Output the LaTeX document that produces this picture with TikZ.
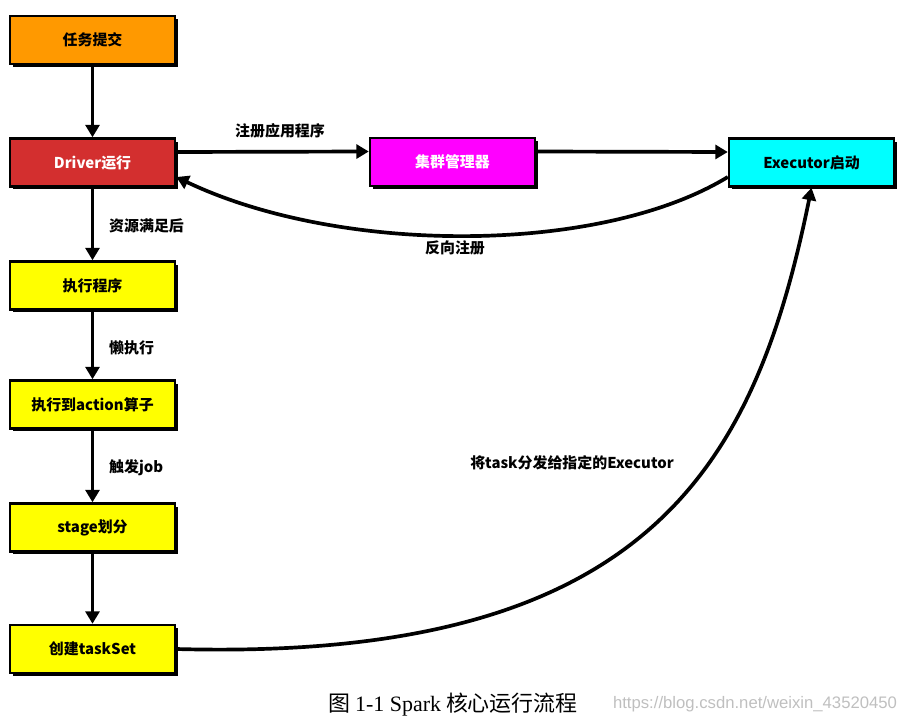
\documentclass[tikz,border=0pt]{standalone}
\usepackage{fontspec}
\setmainfont{Noto Sans CJK SC}
\newfontfamily\serifcap{Liberation Serif}
\newfontfamily\webfont{Liberation Sans}
\usetikzlibrary{arrows.meta,shadows}
\definecolor{taskorange}{HTML}{FF9900}
\definecolor{driverred}{HTML}{D32F2F}
\definecolor{clustermagenta}{HTML}{FF00FF}
\definecolor{execcyan}{HTML}{00FFFF}
\definecolor{stepyellow}{HTML}{FFFF00}

\begin{document}
\begin{tikzpicture}[x=0.02cm,y=-0.02cm,
  box/.style={draw,line width=1.4pt,minimum width=3.3cm,minimum height=0.96cm,
    font=\bfseries\fontsize{8.5}{10}\selectfont,
    drop shadow={shadow xshift=0.06cm,shadow yshift=-0.06cm,fill=black,opacity=1}},
  link/.style={line width=2.1pt,-{Triangle[length=0.25cm,width=0.28cm]}},
  lbl/.style={font=\bfseries\fontsize{8.5}{10}\selectfont}]
\useasboundingbox (0,0) rectangle (905,719);

\node[box,fill=taskorange] (submit) at (92.5,40) {任务提交};
\node[box,fill=driverred,text=white] (driver) at (92.5,162.5) {Driver运行};
\node[box,fill=clustermagenta,text=white] (cm) at (452.5,162) {集群管理器};
\node[box,fill=execcyan] (exec) at (811.5,162.5) {Executor启动};
\node[box,fill=stepyellow] (run) at (92.5,285.5) {执行程序};
\node[box,fill=stepyellow] (action) at (92.5,404.5) {执行到action算子};
\node[box,fill=stepyellow] (stage) at (92.5,527.5) {stage划分};
\node[box,fill=stepyellow] (taskset) at (92.5,649) {创建taskSet};

\draw[link] (submit) -- (driver);
\draw[link] (driver) -- (run);
\draw[link] (run) -- (action);
\draw[link] (action) -- (stage);
\draw[link] (stage) -- (taskset);

\draw[link] ([yshift=0.21cm]driver.east) -- ([yshift=0.21cm]cm.west);
\draw[link] ([yshift=0.21cm]cm.east) -- ([yshift=0.21cm]exec.west);
\draw[link] ([yshift=-0.29cm]exec.west) .. controls (600,255) and (340,255) .. ([yshift=-0.29cm]driver.east);
\draw[link] (taskset.east) .. controls (650,662) and (755,465) .. (exec.south);

\node[lbl] (reg) at (280,131) {注册应用程序};
\node[lbl] (back) at (455,248) {反向注册};
\node[lbl,anchor=west] (ready) at (103,226) {资源满足后};
\node[lbl,anchor=west] (lazy) at (103,348) {懒执行};
\node[lbl,anchor=west] (job) at (103,468) {触发job};
\node[lbl] (send) at (572,463) {将task分发给指定的Executor};

\node (cap) at (453,705) {\fontsize{12.5}{14}\selectfont 图 {\serifcap 1-1 Spark} 核心运行流程};
\node[text=black!25,font=\webfont\fontsize{9.5}{11}\selectfont] (mark) at (755,704) {https://blog.csdn.net/weixin\_43520450};
\end{tikzpicture}
\end{document}
